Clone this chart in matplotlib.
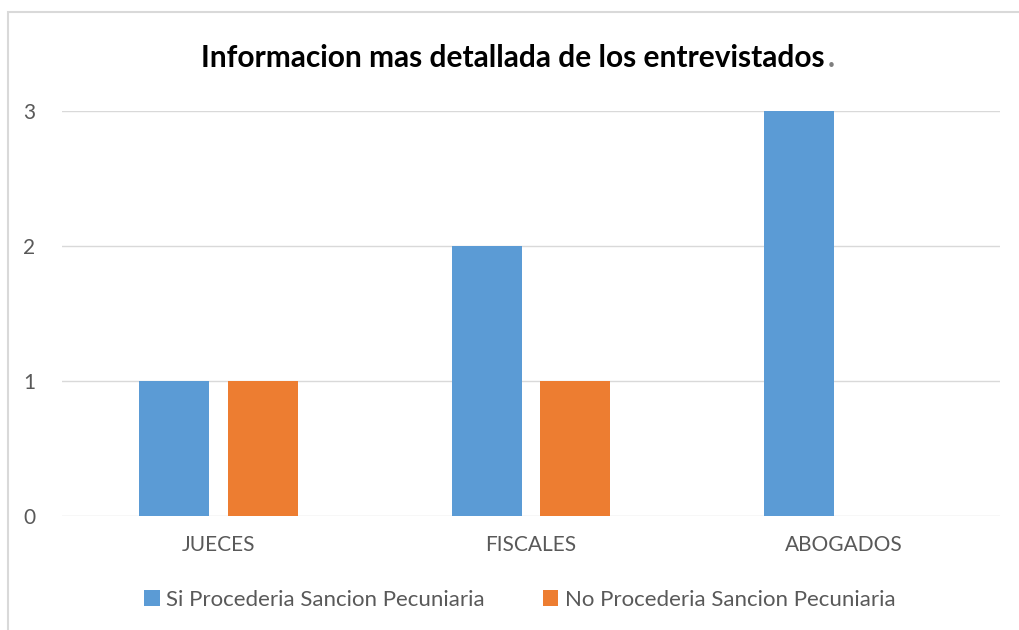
import matplotlib.pyplot as plt
import numpy as np
from matplotlib.patches import Rectangle

plt.rcParams['font.family'] = ['Lato', 'DejaVu Sans']

categorias = ['JUECES', 'FISCALES', 'ABOGADOS']
si_procede = [1, 2, 3]
no_procede = [1, 1, 0]
series = ['Si Procederia Sancion Pecuniaria', 'No Procederia Sancion Pecuniaria']

fig = plt.figure(figsize=(10.19, 6.3), dpi=100)
# borde del grafico
fig.patches.append(Rectangle((8/1019, -0.1), 1.2, 1 - 12/630 + 0.1, transform=fig.transFigure,
                             fill=False, edgecolor='#d9d9d9', linewidth=1.5))
ax = fig.add_axes([62/1019, 1 - 516/630, 938/1019, 405/630])

x = np.arange(len(categorias))
w = 0.224
ax.bar(x - 0.142, si_procede, w, color='#5b9bd5', label=series[0], zorder=3)
ax.bar(x + 0.142, no_procede, w, color='#ed7d31', label=series[1], zorder=3)

ax.set_xlim(-0.5, 2.5)
ax.set_ylim(0, 3)
ax.set_yticks([0, 1, 2, 3])
ax.set_xticks(x)
ax.set_xticklabels(categorias)
ax.grid(axis='y', color='#d9d9d9', linewidth=1, zorder=0)
for s in ax.spines.values():
    s.set_visible(False)
ax.tick_params(axis='both', length=0, labelsize=15, labelcolor='#595959')
ax.tick_params(axis='y', pad=19)
ax.tick_params(axis='x', pad=14)

t = fig.text(0.5 + 3/1019, 1 - 58/630, 'Informacion mas detallada de los entrevistados', ha='center',
             va='center', fontsize=21.5, fontweight='bold', color='black')
fig.canvas.draw()
bb = t.get_window_extent()
fig.text((bb.x1 + 3) / fig.bbox.width, 1 - 58/630, '.', fontsize=21.5, fontweight='bold',
         color='#7f7f7f', ha='left', va='center')

ax.legend(loc='center', bbox_to_anchor=((520 - 62) / 938, (516 - 600) / 405), ncol=2, frameon=False,
          fontsize=16, labelcolor='#595959', handlelength=0.7, handleheight=0.7,
          handletextpad=0.3, columnspacing=2.6)

fig.savefig('out.png', dpi=100)
